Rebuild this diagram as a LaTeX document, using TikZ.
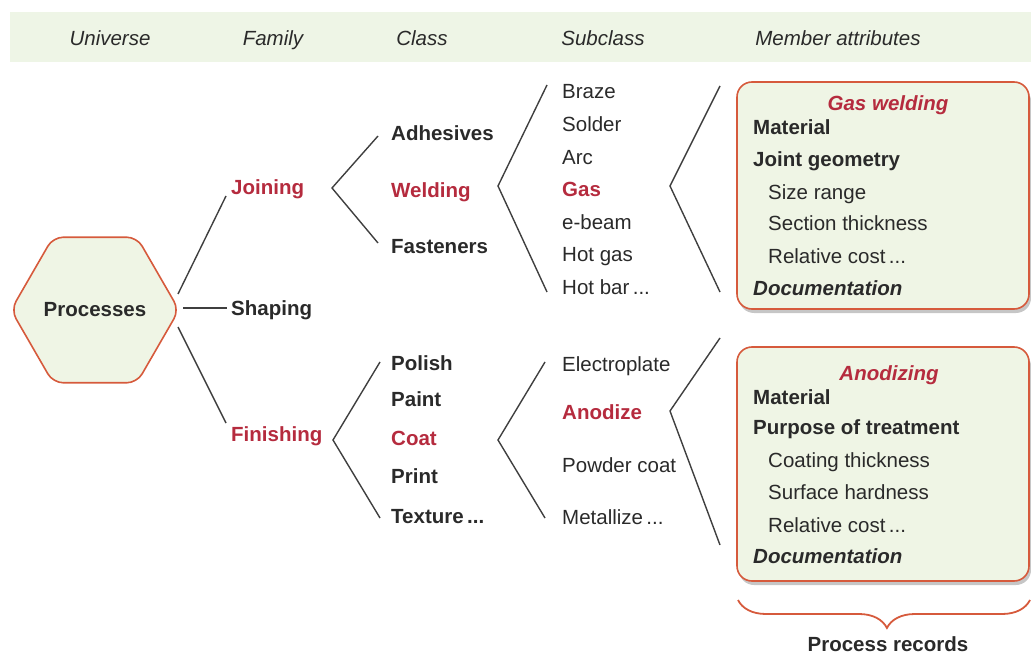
\documentclass[tikz,border=0pt]{standalone}
\usepackage{fontspec}
\setmainfont{Liberation Sans}
\usetikzlibrary{shapes.geometric,shadows,decorations.pathreplacing}

\definecolor{band}{HTML}{EEF5E6}
\definecolor{leaf}{HTML}{EFF5E5}
\definecolor{accent}{HTML}{B52B3E}
\definecolor{frame}{HTML}{D65A3C}
\definecolor{ink}{HTML}{2A2A2A}

\tikzset{
  txt/.style={inner sep=0pt, text height=14.5pt, text depth=0pt, text=ink,
              font=\fontsize{20.5}{24}\selectfont, anchor=west},
  hd/.style={txt, anchor=center, font=\fontsize{20.5}{24}\selectfont\itshape},
  bf/.style={txt, font=\fontsize{20.5}{24}\selectfont\bfseries},
  hot/.style={bf, text=accent},
  title/.style={hot, anchor=center, font=\fontsize{20.5}{24}\selectfont\bfseries\itshape},
  docu/.style={bf, font=\fontsize{20.5}{24}\selectfont\bfseries\itshape},
  link/.style={draw=ink!90, line width=1.4pt},
  record/.style={draw=frame, fill=leaf, line width=1.6pt, rounded corners=15pt,
                 drop shadow={shadow xshift=2pt, shadow yshift=-4pt, fill=black!50, opacity=.45}},
}

\begin{document}
\begin{tikzpicture}[x=1pt, y=-1pt]
\useasboundingbox (0,0) rectangle (1031,655);

% header band with the level names
\fill[band] (10,12) rectangle (1031,62);
\node[hd] (hUni) at (110,38) {Universe};
\node[hd] (hFam) at (273,38) {Family};
\node[hd] (hCls) at (422,38) {Class};
\node[hd] (hSub) at (603,38) {Subclass};
\node[hd] (hMem) at (838,38) {Member attributes};

% universe
\node[regular polygon, regular polygon sides=6, minimum size=168pt, inner sep=0pt,
      draw=frame, fill=leaf, line width=1.6pt, rounded corners=10pt,
      font=\fontsize{20.5}{24}\selectfont\bfseries, text=ink] (proc) at (95,310) {Processes};

% families
\node[hot] (join) at (231,187) {Joining};
\node[bf]  (shap) at (231,308) {Shaping};
\node[hot] (fini) at (231,434) {Finishing};

\coordinate (pJ) at (178,294);
\coordinate (pF) at (178,327);
\coordinate (tJ) at (226,196);
\coordinate (tF) at (226,423);
\coordinate (pS) at (183,308);
\draw[link] (pJ) -- (tJ);
\draw[link] (pS) -- ([xshift=-4pt]shap.west);
\draw[link] (pF) -- (tF);

% classes
\node[bf]  (adh)  at (391,133) {Adhesives};
\node[hot] (weld) at (391,190) {Welding};
\node[bf]  (fast) at (391,246) {Fasteners};

\node[bf]  (pol)  at (391,363) {Polish};
\node[bf]  (pai)  at (391,399) {Paint};
\node[hot] (coat) at (391,438) {Coat};
\node[bf]  (pri)  at (391,476) {Print};
\node[bf]  (tex)  at (391,516) {Texture\,...};

\coordinate (cJv) at (332,188);
\coordinate (cJa) at (378,136);
\coordinate (cJb) at (378,243);
\draw[link] (cJa) -- (cJv) -- (cJb);

\coordinate (cFv) at (333,440);
\coordinate (cFa) at (380,362);
\coordinate (cFb) at (380,518);
\draw[link] (cFa) -- (cFv) -- (cFb);

% subclasses
\node[txt] (braz) at (562,91)  {Braze};
\node[txt] (sold) at (562,124) {Solder};
\node[txt] (arc)  at (562,157) {Arc};
\node[hot] (gas)  at (562,189) {Gas};
\node[txt] (ebm)  at (562,222) {e-beam};
\node[txt] (hgas) at (562,254) {Hot gas};
\node[txt] (hbar) at (562,287) {Hot bar\,...};

\node[txt] (elec) at (562,364) {Electroplate};
\node[hot] (anod) at (562,412) {Anodize};
\node[txt] (powd) at (562,465) {Powder coat};
\node[txt] (meta) at (562,517) {Metallize\,...};

\coordinate (sWv) at (498,186);
\coordinate (sWa) at (547,85);
\coordinate (sWb) at (547,292);
\draw[link] (sWa) -- (sWv) -- (sWb);

\coordinate (sCv) at (498,440);
\coordinate (sCa) at (545,362);
\coordinate (sCb) at (545,518);
\draw[link] (sCa) -- (sCv) -- (sCb);

% member attributes
\coordinate (mGv) at (670,186);
\coordinate (mGa) at (720,86);
\coordinate (mGb) at (720,292);
\draw[link] (mGa) -- (mGv) -- (mGb);

\coordinate (mAv) at (670,411);
\coordinate (mAa) at (720,338);
\coordinate (mAb) at (720,545);
\draw[link] (mAa) -- (mAv) -- (mAb);

% record: gas welding
\path[record] (737,82) rectangle (1029,309);
\node[title] (gwT) at (888,103) {Gas welding};
\node[bf]  (gw1) at (753,127) {Material};
\node[bf]  (gw2) at (753,159) {Joint geometry};
\node[txt] (gw3) at (768,192) {Size range};
\node[txt] (gw4) at (768,223) {Section thickness};
\node[txt] (gw5) at (768,256) {Relative cost\,...};
\node[docu] (gw6) at (753,288) {Documentation};

% record: anodizing
\path[record] (737,347) rectangle (1029,581);
\node[title] (anT) at (889,373) {Anodizing};
\node[bf]  (an1) at (753,397) {Material};
\node[bf]  (an2) at (753,427) {Purpose of treatment};
\node[txt] (an3) at (768,460) {Coating thickness};
\node[txt] (an4) at (768,492) {Surface hardness};
\node[txt] (an5) at (768,525) {Relative cost\,...};
\node[docu] (an6) at (753,556) {Documentation};

% brace grouping the records
\coordinate (brL) at (738,600);
\coordinate (brR) at (1030,600);
\draw[frame, line width=1.8pt, decorate,
      decoration={brace, mirror, amplitude=28pt, aspect=0.51}] (brL) -- (brR);
\node[bf, anchor=center] (recs) at (888,644) {Process records};
\end{tikzpicture}
\end{document}
